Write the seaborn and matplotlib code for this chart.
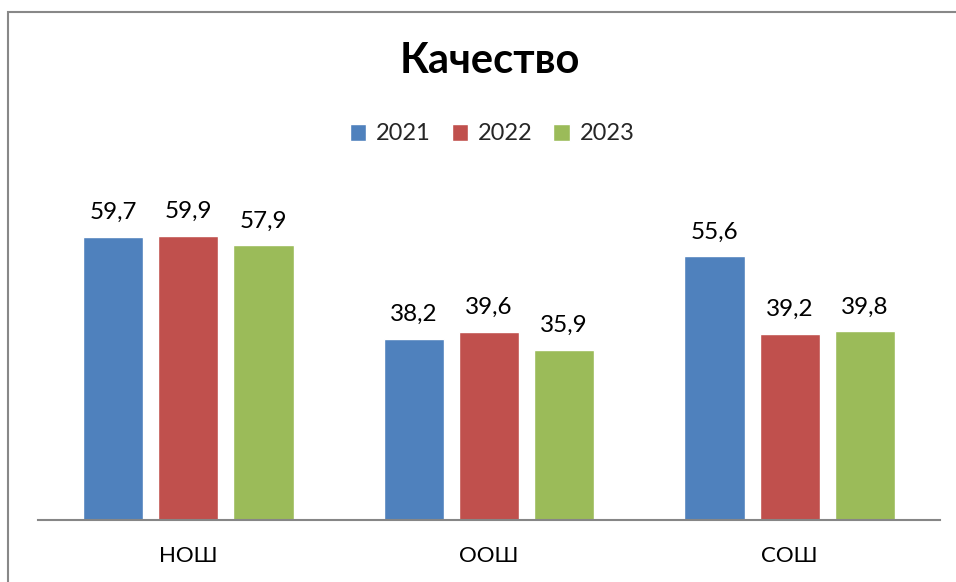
import pandas as pd
import matplotlib
matplotlib.use("Agg")
import matplotlib.pyplot as plt
import seaborn as sns
from matplotlib.patches import Rectangle

# Chart data
categories = ["НОШ", "ООШ", "СОШ"]
years = ["2021", "2022", "2023"]
values_2021 = [59.7, 38.2, 55.6]
values_2022 = [59.9, 39.6, 39.2]
values_2023 = [57.9, 35.9, 39.8]
colors = ["#4F81BD", "#C0504D", "#9BBB59"]

df = pd.DataFrame({
    "category": categories * 3,
    "year": [years[0]] * 3 + [years[1]] * 3 + [years[2]] * 3,
    "value": values_2021 + values_2022 + values_2023,
})

sns.set_theme(style="white")
plt.rcParams["font.family"] = ["Lato", "DejaVu Sans"]

W, H = 956, 582
fig = plt.figure(figsize=(W / 100, H / 100), dpi=100)
ax = fig.add_axes([38 / W, (H - 520) / H, (940 - 38) / W, (520 - 188) / H])

sns.barplot(data=df, x="category", y="value", hue="year", palette=colors,
            width=0.75, gap=0.2, saturation=1, ax=ax, legend=True)

for cont in ax.containers:
    ax.bar_label(cont, labels=[f"{v:.1f}".replace(".", ",") for v in cont.datavalues],
                 padding=10, fontsize=17.5, color="black")

ax.set_ylim(0, 70)
ax.set_xlim(-0.5, 2.5)
ax.set_xlabel("")
ax.set_ylabel("")
ax.set_yticks([])
ax.tick_params(axis="x", length=0, pad=19, labelsize=16, colors="black")
for s in ["top", "right", "left"]:
    ax.spines[s].set_visible(False)
ax.spines["bottom"].set_color("#868686")
ax.spines["bottom"].set_linewidth(1.5)

handles, labels = ax.get_legend_handles_labels()
ax.legend(handles, labels, loc="center", bbox_to_anchor=(492 / W, (H - 134) / H),
          bbox_transform=fig.transFigure, ncol=3, frameon=False, fontsize=17,
          handlelength=0.7, handleheight=0.7, handletextpad=0.4, columnspacing=0.9)

fig.text(490 / W, (H - 61) / H, "Качество", ha="center", va="center",
         fontsize=30, fontweight="bold", color="black")

# outer chart border
fig.patches.append(Rectangle((8 / W, -0.1), 1.2, (H - 12) / H + 0.1,
                             transform=fig.transFigure, fill=False,
                             edgecolor="#888888", linewidth=1.5))

fig.savefig("out.png", dpi=100)
